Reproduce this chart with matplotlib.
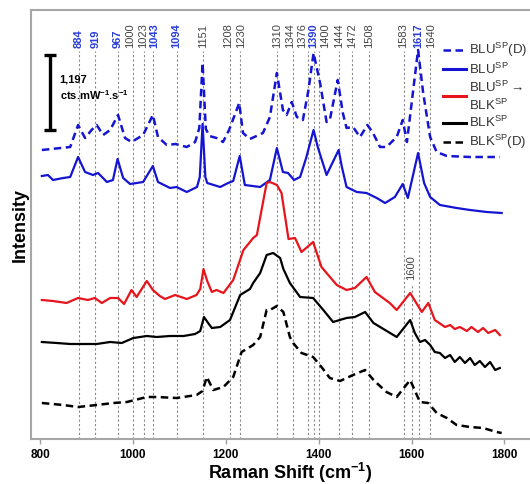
"""
Raman spectra of the BLU / BLK samples, stacked with offsets, with the assigned
bands marked by dotted lines.
"""

from matplotlib import pyplot as plt
from matplotlib.lines import Line2D

plt.rcParams['font.family'] = ['Liberation Sans', 'DejaVu Sans']
plt.rcParams['mathtext.default'] = 'regular'

###############################################################################
# Data (intensities are offset, arbitrary units)
###############################################################################
BLU_D_SHIFT = [804, 865, 882, 897, 911, 922, 936, 951, 968, 983,
               997, 1022, 1043, 1054, 1073, 1092, 1116, 1134, 1143, 1150,
               1157, 1165, 1180, 1194, 1207, 1229, 1237, 1252, 1280, 1295,
               1310, 1323, 1331, 1342, 1353, 1366, 1378, 1389, 1403, 1417,
               1424, 1441, 1452, 1460, 1474, 1489, 1505, 1517, 1532, 1546,
               1568, 1581, 1590, 1614, 1625, 1640, 1654, 1676, 1726, 1790]
BLU_D_INT = [289, 292, 314, 301, 309, 314, 304, 309, 324, 301,
             297, 304, 324, 302, 294, 295, 292, 297, 311, 376,
             310, 303, 301, 297, 309, 336, 306, 300, 306, 322,
             366, 329, 324, 337, 322, 319, 349, 386, 356, 317,
             319, 359, 326, 311, 312, 302, 314, 306, 292, 292,
             302, 319, 297, 389, 346, 302, 287, 283, 282, 282]

BLU_SHIFT = [804, 817, 828, 850, 865, 882, 897, 914, 925, 944,
             957, 967, 979, 994, 1022, 1043, 1054, 1080, 1094, 1116,
             1138, 1144, 1150, 1156, 1160, 1188, 1205, 1216, 1230, 1241,
             1274, 1295, 1310, 1323, 1334, 1347, 1360, 1373, 1389, 1398,
             1417, 1443, 1450, 1460, 1482, 1503, 1525, 1543, 1564, 1581,
             1592, 1614, 1627, 1640, 1661, 1697, 1726, 1762, 1794]
BLU_INT = [263, 264, 259, 261, 262, 282, 267, 264, 266, 257,
           259, 280, 261, 255, 257, 273, 257, 251, 252, 247,
           252, 262, 315, 262, 256, 252, 256, 258, 283, 254,
           252, 259, 291, 267, 266, 259, 262, 281, 309, 292,
           264, 289, 272, 252, 247, 246, 241, 236, 242, 255,
           241, 286, 256, 242, 234, 231, 229, 227, 226]

BLU_BLK_SHIFT = [804, 828, 857, 882, 903, 918, 933, 951, 968, 981,
                 997, 1008, 1030, 1043, 1058, 1069, 1091, 1116, 1137, 1145,
                 1152, 1160, 1170, 1180, 1195, 1216, 1238, 1259, 1267, 1277,
                 1288, 1295, 1310, 1320, 1335, 1349, 1363, 1388, 1406, 1439,
                 1460, 1478, 1503, 1521, 1553, 1568, 1597, 1622, 1636, 1650,
                 1672, 1683, 1693, 1704, 1719, 1729, 1743, 1754, 1765, 1780,
                 1790]
BLU_BLK_INT = [139, 138, 136, 141, 139, 141, 136, 141, 141, 135,
               149, 142, 158, 149, 143, 140, 144, 140, 144, 150,
               170, 158, 147, 149, 146, 159, 189, 201, 204, 229,
               256, 257, 254, 246, 200, 201, 187, 197, 172, 154,
               149, 151, 162, 147, 136, 129, 146, 127, 136, 119,
               112, 114, 110, 112, 108, 112, 107, 111, 106, 109,
               104]

BLK_SHIFT = [804, 836, 865, 886, 922, 951, 976, 1001, 1030, 1051,
             1080, 1109, 1134, 1145, 1153, 1162, 1170, 1188, 1209, 1231,
             1238, 1252, 1259, 1274, 1288, 1302, 1317, 1324, 1338, 1360,
             1388, 1410, 1431, 1460, 1478, 1500, 1518, 1543, 1568, 1597,
             1607, 1618, 1629, 1640, 1650, 1661, 1672, 1683, 1693, 1704,
             1715, 1726, 1736, 1747, 1758, 1769, 1780, 1790]
BLK_INT = [97, 96, 95, 95, 95, 97, 96, 101, 103, 102,
           103, 103, 105, 108, 122, 116, 111, 112, 119, 144,
           146, 150, 156, 166, 184, 186, 181, 170, 156, 142,
           141, 129, 117, 121, 122, 127, 116, 109, 102, 119,
           106, 97, 99, 94, 87, 86, 81, 84, 77, 82,
           76, 81, 74, 78, 72, 77, 69, 71]

BLK_D_SHIFT = [804, 850, 882, 922, 958, 987, 1030, 1051, 1094, 1137,
               1150, 1159, 1173, 1195, 1216, 1234, 1259, 1274, 1288, 1295,
               1310, 1324, 1338, 1345, 1363, 1388, 1406, 1424, 1446, 1474,
               1500, 1518, 1546, 1568, 1597, 1618, 1636, 1654, 1676, 1697,
               1726, 1754, 1783, 1794]
BLK_D_INT = [36, 34, 32, 34, 36, 37, 42, 42, 41, 44,
             48, 62, 49, 52, 62, 87, 94, 102, 129, 129,
             133, 127, 102, 96, 86, 82, 72, 61, 58, 64,
             69, 59, 47, 42, 59, 37, 36, 26, 21, 14,
             12, 11, 7, 6]

# assigned bands (blue = BLU specific); the labels are spread a little where crowded
PEAKS = [884, 919, 967, 1000, 1023, 1043, 1094, 1151, 1208, 1230, 1310,
         1344, 1376, 1390, 1400, 1444, 1472, 1508, 1583, 1617, 1640]
PEAK_LABEL_AT = [884, 919, 967, 995, 1021, 1047, 1094, 1151, 1205, 1233, 1310,
                 1339, 1364, 1389, 1414, 1444, 1472, 1508, 1581, 1614, 1642]
BLUE_PEAKS = [884, 919, 967, 1043, 1094, 1390, 1617]
EXTRA_PEAK = 1600

SCALE_BAR_LABEL = '1,197\ncts.mW$^{-1}$.s$^{-1}$'
X_TICKS = [800, 1000, 1200, 1400, 1600, 1800]

BLUE = '#1414d2'
RED = '#e8141c'
LABEL_BLUE = '#2b3ed6'
GREY = '#8a8a8a'

fig = plt.figure(figsize=(5.3, 4.84), dpi=100)
ax = fig.add_axes([31 / 530, 1 - 439 / 484, 1 - 31 / 530, 429 / 484])

# band markers
ax.vlines(PEAKS, 0, 388, colors=GREY, linestyles=(0, (2, 2)), lw=0.8, zorder=1)
ax.vlines(EXTRA_PEAK, 0, 155, colors=GREY, linestyles=(0, (2, 2)), lw=0.8, zorder=1)
for p, at in zip(PEAKS, PEAK_LABEL_AT):
    blue = p in BLUE_PEAKS
    ax.text(at, 391, str(p), rotation=90, ha='center', va='bottom', fontsize=8,
            color=LABEL_BLUE if blue else '#444444',
            fontweight='bold' if blue else 'normal')
ax.text(EXTRA_PEAK, 159, str(EXTRA_PEAK), rotation=90, ha='center', va='bottom',
        fontsize=8, color='#444444')

# spectra
dash = (0, (3, 1.8))
ax.plot(BLU_D_SHIFT, BLU_D_INT, color=BLUE, lw=1.8, linestyle=dash, zorder=2)
ax.plot(BLU_SHIFT, BLU_INT, color=BLUE, lw=1.6, zorder=2)
ax.plot(BLU_BLK_SHIFT, BLU_BLK_INT, color=RED, lw=1.6, zorder=2)
ax.plot(BLK_SHIFT, BLK_INT, color='black', lw=1.6, zorder=2)
ax.plot(BLK_D_SHIFT, BLK_D_INT, color='black', lw=1.8, linestyle=dash, zorder=2)

# intensity scale bar
ax.errorbar([821], [346.5], yerr=[37.5], color='black', lw=2.4, capsize=4,
            capthick=2.4)
ax.text(842, 351, SCALE_BAR_LABEL, ha='left', va='center', fontsize=8,
        fontweight='bold', linespacing=1.3)

ax.set_xlim(780.6, 1855)
ax.set_ylim(0, 429)
ax.set_xticks(X_TICKS)
ax.set_yticks([])
ax.tick_params(axis='x', direction='out', length=3.5, width=1, color='#a0a0a0',
               pad=4, labelsize=8.5)
for lab in ax.get_xticklabels():
    lab.set_fontweight('bold')
for side in ['left', 'bottom', 'top']:
    ax.spines[side].set_color('#a6a6a6')
    ax.spines[side].set_linewidth(1.5)
ax.spines['right'].set_visible(False)

fig.text(290 / 530, 1 - 473 / 484, 'Raman Shift (cm$^{-1}$)', ha='center',
         va='center', fontsize=13, fontweight='bold')
fig.text(20 / 530, 1 - 224.5 / 484, 'Intensity', rotation=90, ha='center',
         va='center', fontsize=13, fontweight='bold')

handles = [Line2D([], [], color=BLUE, lw=1.8, linestyle=dash),
           Line2D([], [], color=BLUE, lw=2.2),
           Line2D([], [], color=RED, lw=2.2),
           Line2D([], [], color='black', lw=2.2),
           Line2D([], [], color='black', lw=1.8, linestyle=dash)]
labels = ['BLU$^{SP}$(D)', 'BLU$^{SP}$', 'BLU$^{SP}\\rightarrow$\nBLK$^{SP}$',
          'BLK$^{SP}$', 'BLK$^{SP}$(D)']
leg = ax.legend(handles, labels, loc='upper left', bbox_to_anchor=(443 / 530, 1 - 41 / 484),
                bbox_transform=fig.transFigure, frameon=False, fontsize=9.5,
                handlelength=1.75, handletextpad=0.2, labelspacing=0.2,
                borderpad=0, borderaxespad=0)
for t in leg.get_texts():
    t.set_color('#333333')

fig.savefig('out.png', dpi=100)
